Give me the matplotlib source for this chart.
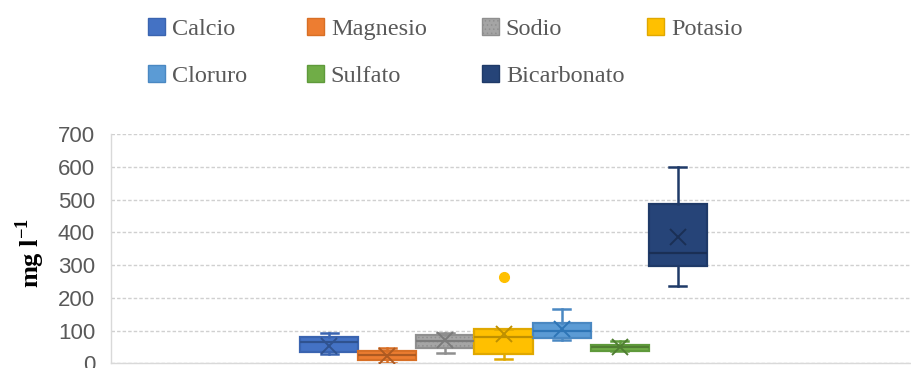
import matplotlib
matplotlib.use("Agg")
import matplotlib.pyplot as plt
from matplotlib.patches import Patch

# Ion concentrations (mg/l): box-plot summary statistics per ion
ions = ["Calcio", "Magnesio", "Sodio", "Potasio", "Cloruro", "Sulfato", "Bicarbonato"]
whisker_low = [28, 2, 30, 12, 71, 38, 237]
q1 = [35, 10, 46, 27, 76, 39, 297]
median = [65, 25, 69, 79, 100, 50, 336]
q3 = [81, 38, 86, 105, 124, 56, 485]
whisker_high = [92, 46, 93, 105, 165, 69, 600]
mean = [54, 23, 70, 88, 104, 49, 385]
outliers = [[], [], [], [262], [], [], []]

y_ticks = [0, 100, 200, 300, 400, 500, 600, 700]

face_colors = ["#4472C4", "#ED7D31", "#A5A5A5", "#FFC000", "#5B9BD5", "#70AD47", "#264478"]
edge_colors = ["#3A64B0", "#D86F25", "#8F8F8F", "#E0A800", "#4A88C2", "#5F9A3B", "#1F3A68"]
dark_colors = ["#2F528F", "#AE5A21", "#7B7B7B", "#BF9000", "#2E75B6", "#507E32", "#1A2F55"]

plt.rcParams["hatch.linewidth"] = 0.6
plt.rcParams["mathtext.fontset"] = "custom"
plt.rcParams["mathtext.rm"] = "Liberation Serif"
plt.rcParams["mathtext.bf"] = "Liberation Serif:bold"

fig = plt.figure(figsize=(9.11, 3.68), dpi=100)
ax = fig.add_axes([111 / 911, 4.7 / 368, 800 / 911, 229.3 / 368])

positions = [i - 3 for i in range(len(ions))]
for i, name in enumerate(ions):
    stats = [{
        "label": name,
        "whislo": whisker_low[i],
        "q1": q1[i],
        "med": median[i],
        "q3": q3[i],
        "whishi": whisker_high[i],
        "mean": mean[i],
        "fliers": outliers[i],
    }]
    bp = ax.bxp(
        stats,
        positions=[positions[i]],
        widths=1.0,
        capwidths=0.29,
        patch_artist=True,
        showmeans=True,
        boxprops=dict(facecolor=face_colors[i], edgecolor=edge_colors[i], linewidth=1.6),
        medianprops=dict(color=dark_colors[i], linewidth=1.6),
        whiskerprops=dict(color=edge_colors[i], linewidth=1.8),
        capprops=dict(color=edge_colors[i], linewidth=1.8),
        meanprops=dict(marker="x", markersize=12, markeredgewidth=1.4,
                       markeredgecolor=dark_colors[i], markerfacecolor="none"),
        flierprops=dict(marker="o", markersize=7, markerfacecolor=face_colors[i],
                        markeredgecolor=face_colors[i]),
        manage_ticks=False,
        zorder=3,
    )
    if name == "Sodio":
        for b in bp["boxes"]:
            b.set_hatch("....")

ax.set_xlim(-6.756, 7.014)
ax.set_ylim(0, 700)
ax.set_yticks(y_ticks)
ax.set_xticks([])
ax.grid(axis="y", color="#D0D0D0", linestyle=(0, (2.5, 1.5)), linewidth=1.0, zorder=0)
ax.set_axisbelow(True)
for side in ["top", "right"]:
    ax.spines[side].set_visible(False)
for side in ["left", "bottom"]:
    ax.spines[side].set_color("#D9D9D9")
    ax.spines[side].set_linewidth(1.0)
ax.tick_params(axis="y", length=0, pad=11.5, labelsize=16, labelcolor="#595959")
for lbl in ax.get_yticklabels():
    lbl.set_fontfamily("Liberation Sans")

fig.text(30 / 911, 1 - 253 / 368, r"mg l$^{\mathregular{-1}}$", rotation=90,
         ha="center", va="center", fontsize=19, fontweight="bold",
         family="Liberation Serif", color="#000000")

# Legend, laid out column by column
handles = [Patch(facecolor=face_colors[i], edgecolor=edge_colors[i], linewidth=1.0,
                 hatch="...." if ions[i] == "Sodio" else None)
           for i in range(len(ions))]
columns = [([0, 4], 148), ([1, 5], 307), ([2, 6], 482), ([3], 647)]
for idx, x_px in columns:
    leg = fig.legend([handles[k] for k in idx], [ions[k] for k in idx],
                     loc="upper left", bbox_to_anchor=(x_px / 911, 1 - 18 / 368),
                     frameon=False, borderpad=0, borderaxespad=0,
                     handlelength=0.68, handleheight=0.68, handletextpad=0.3,
                     labelspacing=1.05,
                     prop={"family": "Liberation Serif", "size": 17.5})
    for t in leg.get_texts():
        t.set_color("#595959")

fig.savefig("out.png", dpi=100)
